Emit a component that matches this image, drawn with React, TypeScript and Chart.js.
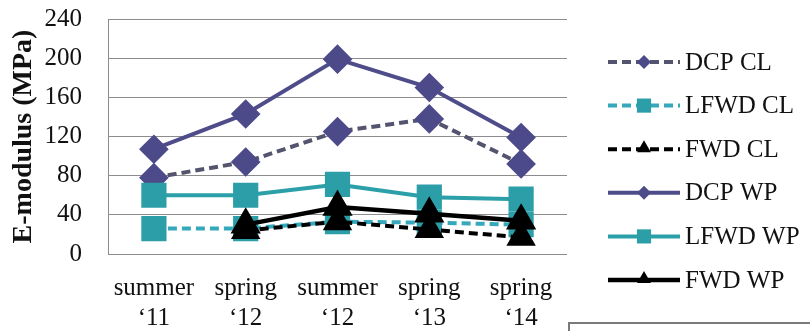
import React, { useEffect, useRef } from 'react';
import { Chart, registerables } from 'chart.js';

Chart.register(...registerables);

// ---- data ----
const categories: string[][] = [
  ['summer', '\u201811'],
  ['spring', '\u201812'],
  ['summer', '\u201812'],
  ['spring', '\u201813'],
  ['spring', '\u201814'],
];
const dcpCL = [78, 94, 125, 138, 92];
const lfwdCL = [26, 26, 33, 32, 30];
const fwdCL = [null, 24, 33, 25, 17];
const dcpWP = [107, 143, 199, 170, 119];
const lfwdWP = [60, 60, 71, 58, 56];
const fwdWP = [null, 30, 48, 41, 34];
const seriesNames = ['DCP CL', 'LFWD CL', 'FWD CL', 'DCP WP', 'LFWD WP', 'FWD WP'];
const yMin = 0;
const yMax = 240;
const yStep = 40;
const yTitle = 'E-modulus (MPa)';

const FONT = '"Liberation Serif", "Times New Roman", serif';
const PURPLE = '#4D4A8A';
const TEAL = '#2C9EA8';
const DASH = [9, 5];

function drawMarker(ctx: CanvasRenderingContext2D, style: string, x: number, y: number, r: number, color: string) {
  ctx.save();
  ctx.fillStyle = color;
  ctx.beginPath();
  if (style === 'rectRot') {
    ctx.moveTo(x, y - r);
    ctx.lineTo(x + r, y);
    ctx.lineTo(x, y + r);
    ctx.lineTo(x - r, y);
  } else if (style === 'rect') {
    const s = r * Math.SQRT1_2;
    ctx.rect(x - s, y - s, 2 * s, 2 * s);
  } else {
    ctx.moveTo(x, y - r);
    ctx.lineTo(x + r * 0.866, y + r * 0.5);
    ctx.lineTo(x - r * 0.866, y + r * 0.5);
  }
  ctx.closePath();
  ctx.fill();
  ctx.restore();
}

const sideLegend = {
  id: 'sideLegend',
  afterDraw(chart: any) {
    const ctx: CanvasRenderingContext2D = chart.ctx;
    const area = chart.chartArea;
    const x0 = area.right + 41;
    const lineLen = 72;
    const yStart = 62;
    const yGap = 43.6;
    ctx.save();
    seriesNames.forEach((name, i) => {
      const ds = chart.data.datasets.find((d: any) => d.label === name);
      if (!ds) return;
      const y = yStart + i * yGap;
      ctx.save();
      ctx.strokeStyle = ds.borderColor;
      ctx.lineWidth = ds.borderWidth;
      ctx.setLineDash(ds.borderDash || []);
      ctx.beginPath();
      ctx.moveTo(x0, y);
      ctx.lineTo(x0 + lineLen, y);
      ctx.stroke();
      ctx.restore();
      const r = ds.pointStyle === 'rect' ? 10 : ds.pointStyle === 'triangle' ? 8 : 7;
      drawMarker(ctx, ds.pointStyle, x0 + lineLen / 2, ds.pointStyle === 'triangle' ? y - 1 : y, r, ds.pointBackgroundColor);
      ctx.fillStyle = '#111';
      ctx.font = `25px ${FONT}`;
      ctx.textBaseline = 'middle';
      ctx.textAlign = 'left';
      ctx.fillText(name, x0 + lineLen + 5, y + 1);
    });
    // bottom-right box outline
    ctx.strokeStyle = '#7a7a7a';
    ctx.lineWidth = 2;
    ctx.strokeRect(area.right + 2, 323, 300, 40);
    ctx.restore();
  },
};

export default function App() {
  const ref = useRef<HTMLCanvasElement | null>(null);
  useEffect(() => {
    if (!ref.current) return;
    const chart = new Chart(ref.current, {
      type: 'line',
      data: {
        labels: categories as any,
        datasets: [
          {
            label: 'DCP CL', data: dcpCL, borderColor: '#55546E', borderWidth: 4, borderDash: DASH,
            pointStyle: 'rectRot', pointRadius: 12, pointBackgroundColor: PURPLE, pointBorderColor: PURPLE, order: 5,
          },
          {
            label: 'LFWD CL', data: lfwdCL, borderColor: '#35A8BC', borderWidth: 4, borderDash: DASH,
            pointStyle: 'rect', pointRadius: 15, pointBackgroundColor: TEAL, pointBorderColor: TEAL, order: 3,
          },
          {
            label: 'FWD CL', data: fwdCL as any, borderColor: '#000', borderWidth: 4, borderDash: DASH,
            pointStyle: 'triangle', pointRadius: 13, pointBackgroundColor: '#000', pointBorderColor: '#000', order: 1,
          },
          {
            label: 'DCP WP', data: dcpWP, borderColor: '#4F4C8A', borderWidth: 4,
            pointStyle: 'rectRot', pointRadius: 12, pointBackgroundColor: PURPLE, pointBorderColor: PURPLE, order: 4,
          },
          {
            label: 'LFWD WP', data: lfwdWP, borderColor: '#2CA0A8', borderWidth: 4,
            pointStyle: 'rect', pointRadius: 15, pointBackgroundColor: TEAL, pointBorderColor: TEAL, order: 2,
          },
          {
            label: 'FWD WP', data: fwdWP as any, borderColor: '#000', borderWidth: 4.5,
            pointStyle: 'triangle', pointRadius: 13, pointBackgroundColor: '#000', pointBorderColor: '#000', order: 0,
          },
        ] as any,
      },
      options: {
        animation: false,
        responsive: true,
        maintainAspectRatio: false,
        layout: { padding: { top: 16, right: 243, bottom: 0, left: 0 } },
        plugins: { legend: { display: false }, tooltip: { enabled: false } },
        scales: {
          x: {
            offset: true,
            grid: { display: false, drawTicks: false },
            border: { display: false },
            ticks: { color: '#111', font: { family: FONT, size: 25, lineHeight: 1.2 }, padding: 19, maxRotation: 0, autoSkip: false },
            afterFit(scale: any) { scale.height = 77; },
          },
          y: {
            min: yMin,
            max: yMax,
            ticks: { stepSize: yStep, autoSkip: false, color: '#111', font: { family: FONT, size: 25 }, padding: 26 },
            grid: { color: '#8c8c8c', lineWidth: 1, drawTicks: false },
            border: { display: true, color: '#8c8c8c', width: 1 },
            title: {
              display: true, text: yTitle, color: '#111',
              font: { family: FONT, size: 28, weight: 'bold' }, padding: { top: 7, bottom: 0 },
            },
            afterFit(scale: any) { scale.width = 108; scale.paddingTop = 0; scale.paddingBottom = 0; },
          },
        },
      } as any,
      plugins: [sideLegend],
    });
    return () => chart.destroy();
  }, []);
  return (
    <div style={{ position: 'absolute', left: 0, top: 0, width: 810, height: 331, background: '#fff' }}>
      <canvas ref={ref} />
    </div>
  );
}
